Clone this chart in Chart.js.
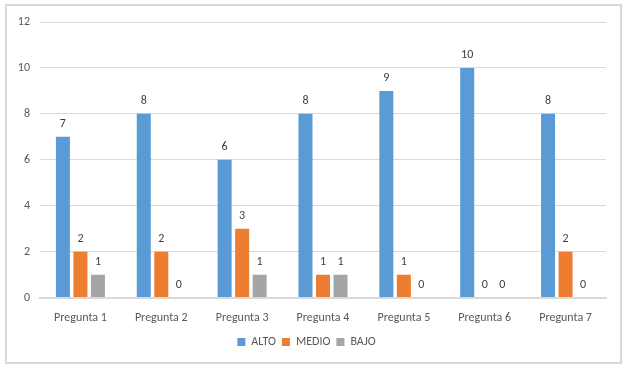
<!DOCTYPE html>
<html lang="es">
<head>
    <meta charset="UTF-8">
    <title>Resultados por pregunta</title>
    <script src="https://cdn.jsdelivr.net/npm/chart.js"></script>
    <style>
        html, body {
            margin: 0;
            padding: 0;
            background: #ffffff;
        }
        .chart-box {
            position: absolute;
            left: 5px;
            top: 4px;
            width: 613px;
            height: 356px;
            border: 2px solid #d9d9d9;
            background: #ffffff;
        }
        canvas {
            display: block;
        }
    </style>
</head>
<body>
    <div class="chart-box">
        <canvas id="chart" width="613" height="356"></canvas>
    </div>

    <script>
        const categories = ['Pregunta 1', 'Pregunta 2', 'Pregunta 3', 'Pregunta 4', 'Pregunta 5', 'Pregunta 6', 'Pregunta 7'];
        const alto = [7, 8, 6, 8, 9, 10, 8];
        const medio = [2, 2, 3, 1, 1, 0, 2];
        const bajo = [1, 0, 1, 1, 0, 0, 0];
        const yTicks = [0, 2, 4, 6, 8, 10, 12];

        const textColor = '#595959';
        const fontFamily = 'Carlito, Lato, "Open Sans", sans-serif';

        // simple value labels above each bar
        const valueLabels = {
            id: 'valueLabels',
            afterDatasetsDraw(chart) {
                const ctx = chart.ctx;
                ctx.save();
                ctx.font = '12px ' + fontFamily;
                ctx.fillStyle = '#404040';
                ctx.textAlign = 'center';
                ctx.textBaseline = 'bottom';
                chart.data.datasets.forEach((ds, i) => {
                    chart.getDatasetMeta(i).data.forEach((bar, j) => {
                        ctx.fillText(ds.data[j], bar.x, bar.y - 7);
                    });
                });
                ctx.restore();
            }
        };

        new Chart(document.getElementById('chart'), {
            type: 'bar',
            data: {
                labels: categories,
                datasets: [
                    { label: 'ALTO', data: alto, backgroundColor: '#5b9bd5' },
                    { label: 'MEDIO', data: medio, backgroundColor: '#ed7d31' },
                    { label: 'BAJO', data: bajo, backgroundColor: '#a5a5a5' }
                ]
            },
            options: {
                responsive: false,
                animation: false,
                categoryPercentage: 0.65,
                barPercentage: 0.8,
                layout: {
                    padding: { left: 0, right: 14, top: 0, bottom: 4 }
                },
                plugins: {
                    legend: {
                        position: 'bottom',
                        labels: {
                            boxWidth: 8,
                            boxHeight: 8,
                            padding: 6,
                            color: textColor,
                            font: { family: fontFamily, size: 12 }
                        }
                    },
                    tooltip: { enabled: false }
                },
                scales: {
                    x: {
                        grid: { display: false },
                        border: { color: '#d9d9d9', width: 2 },
                        ticks: {
                            color: textColor,
                            padding: 5,
                            font: { family: fontFamily, size: 12 }
                        }
                    },
                    y: {
                        min: 0,
                        max: 12,
                        afterFit(scale) { scale.width = 33; },
                        afterBuildTicks(scale) {
                            scale.ticks = yTicks.map(v => ({ value: v }));
                        },
                        grid: { color: '#d9d9d9', drawTicks: false },
                        border: { display: false },
                        ticks: {
                            color: textColor,
                            padding: 10,
                            font: { family: fontFamily, size: 12, lineHeight: 1 }
                        }
                    }
                }
            },
            plugins: [valueLabels]
        });
    </script>
</body>
</html>
